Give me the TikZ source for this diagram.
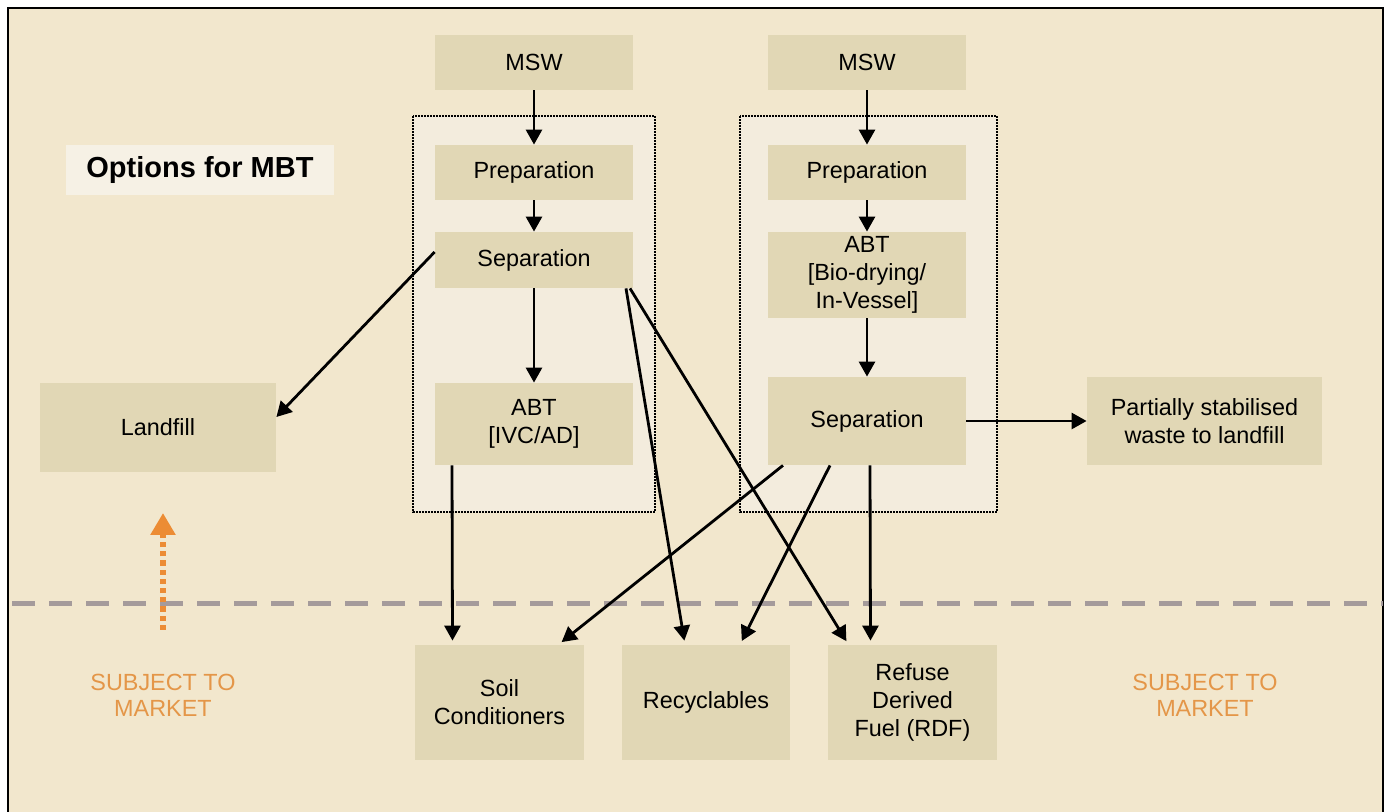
\documentclass[tikz,border=0pt]{standalone}
\usepackage{fontspec}
\setmainfont{Liberation Sans}
\usepackage{xcolor}
\usetikzlibrary{arrows.meta, positioning}

\definecolor{pagebg}{RGB}{242,231,205}
\definecolor{boxfill}{RGB}{225,215,181}
\definecolor{groupfill}{RGB}{243,236,221}
\definecolor{titlefill}{RGB}{246,241,229}
\definecolor{mktorange}{RGB}{236,140,52}
\definecolor{mkttext}{RGB}{228,150,72}
\definecolor{linegray}{RGB}{165,155,155}

\begin{document}
\begin{tikzpicture}[x=0.5pt, y=-0.5pt,
            box/.style={fill=boxfill, rectangle, inner sep=0pt, minimum width=99pt, align=center,
                        font=\fontsize{11.7}{14}\selectfont},
            arr/.style={-{Triangle[length=7.5pt,width=8pt]}, line width=1.4pt},
            group/.style={draw, dash pattern=on 0.8pt off 0.7pt, fill=groupfill, line width=0.8pt},
            mkt/.style={text=mkttext, align=center, font=\fontsize{11.7}{13}\selectfont}]

            \useasboundingbox (0,0) rectangle (1389,812);
            \fill[pagebg] (8,8) rectangle (1383,812);
            \draw[line width=0.8pt] (8,812) -- (8,8) -- (1383,8) -- (1383,812);

            % dotted process groups
            \draw[group] (413,116) rectangle (655,512);
            \draw[group] (740,116) rectangle (997,512);

            \node[fill=titlefill, minimum width=134pt, minimum height=25pt, font=\fontsize{14.5}{17}\selectfont\bfseries] (title) at (200,170) {Options for MBT};

            % left route
            \node[box, minimum height=27.5pt] (msw1) at (534,62.5) {MSW};
            \node[box, minimum height=27.5pt] (prep1) at (534,172.5) {Preparation};
            \node[box, minimum height=28pt] (sep1) at (534,260) {Separation};
            \node[box, minimum height=41pt] (abt1) at (534,424) {ABT\\{[IVC/AD]}};

            % right route
            \node[box, minimum height=27.5pt] (msw2) at (867,62.5) {MSW};
            \node[box, minimum height=27.5pt] (prep2) at (867,172.5) {Preparation};
            \node[box, minimum height=43pt] (abt2) at (867,275) {ABT\\{[Bio-drying/}\\In-Vessel]};
            \node[box, minimum height=44pt] (sep2) at (867,421) {Separation};

            \node[box, minimum width=118pt, minimum height=44.5pt] (landfill) at (158,427.5) {Landfill};
            \node[box, minimum width=117.5pt, minimum height=44pt] (partial) at (1204.5,421) {Partially stabilised\\waste to landfill};

            % products
            \node[box, minimum width=84.5pt, minimum height=57.5pt] (soil) at (499.5,702.5) {Soil\\Conditioners};
            \node[box, minimum width=84pt, minimum height=57.5pt] (recyc) at (706,702.5) {Recyclables};
            \node[box, minimum width=84.5pt, minimum height=57.5pt] (rdf) at (912.5,702.5) {Refuse\\Derived\\Fuel (RDF)};

            % market line
            \draw[linegray, line width=2.5pt, dash pattern=on 11.5pt off 7pt] (12,604) -- (1383,604);
            \coordinate (mktbase) at (163,630);
            \coordinate (mkttop) at (163,513);
            \draw[mktorange, line width=2.8pt, dash pattern=on 2.6pt off 2pt,
                  -{Triangle[length=11pt,width=12pt]}] (mktbase) -- (mkttop);
            \node[mkt] (mktleft) at (163,695) {SUBJECT TO\\MARKET};
            \node[mkt] (mktright) at (1205,695) {SUBJECT TO\\MARKET};

            \draw[arr] (msw1) -- (prep1);
            \draw[arr] (prep1) -- (sep1);
            \draw[arr] (sep1) -- (abt1);
            \draw[arr] ([yshift=4pt]sep1.west) -- ([yshift=5.25pt]landfill.east);
            \draw[arr, shorten >=2pt] ([xshift=46pt]sep1.south) -- ([xshift=-10.5pt]recyc.north);
            \draw[arr, shorten >=2pt] ([xshift=48pt]sep1.south) -- ([xshift=-32pt]rdf.north);
            \draw[arr, shorten >=2pt] ([xshift=-41pt]abt1.south) -- ([xshift=-23.5pt]soil.north);

            \draw[arr] (msw2) -- (prep2);
            \draw[arr] (prep2) -- (abt2);
            \draw[arr] (abt2) -- (sep2);
            \draw[arr] (sep2) -- (partial);
            \draw[arr, shorten >=2pt] ([xshift=-42pt]sep2.south) -- ([xshift=29.5pt]soil.north);
            \draw[arr, shorten >=2pt] ([xshift=-18.5pt]sep2.south) -- ([xshift=17pt]recyc.north);
            \draw[arr, shorten >=2pt] ([xshift=1.5pt]sep2.south) -- ([xshift=-21pt]rdf.north);
        \end{tikzpicture}
\end{document}
